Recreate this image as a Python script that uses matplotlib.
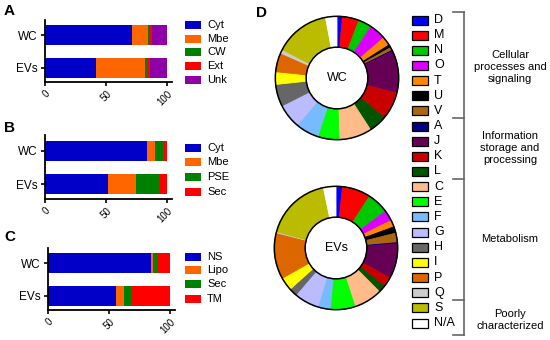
import matplotlib
matplotlib.use("Agg")
import matplotlib.pyplot as plt
from matplotlib.patches import Rectangle, Circle
import numpy as np

plt.rcParams['font.family'] = ['Liberation Sans', 'DejaVu Sans']

# ---------------- data ----------------
samples = ["WC", "EVs"]

a_labels = ["Cyt", "Mbe", "CW", "Ext", "Unk"]
a_wc = [71, 13.6, 1.4, 1.6, 12.4]
a_ev = [42, 40, 2.3, 1.4, 14.3]

b_labels = ["Cyt", "Mbe", "PSE", "Sec"]
b_wc = [83.6, 6.3, 6.8, 3.3]
b_ev = [51.5, 23.3, 19.4, 5.8]

c_labels = ["NS", "Lipo", "Sec", "TM"]
c_wc = [84.1, 2.2, 3.3, 10.4]
c_ev = [55.3, 7.2, 5.5, 32.0]

cog_labels = ["D", "M", "N", "O", "T", "U", "V", "A", "J", "K", "L",
              "C", "E", "F", "G", "H", "I", "P", "Q", "S", "N/A"]
cog_wc = [1.4, 4.4, 3.5, 4.4, 2.3, 0.8, 0.8, 0.3, 11.0, 7.3, 4.7,
          8.6, 5.6, 6.1, 6.4, 5.8, 3.3, 5.0, 1.0, 14.4, 3.0]
cog_ev = [1.7, 7.5, 5.7, 2.8, 1.8, 1.7, 2.5, 0.3, 9.2, 2.6, 1.9,
          7.5, 6.5, 3.3, 6.5, 2.1, 3.5, 12.2, 0.3, 17.5, 3.3]
groups = ["Cellular\nprocesses and\nsignaling", "Information\nstorage and\nprocessing",
          "Metabolism", "Poorly\ncharacterized"]
group_sizes = [7, 4, 8, 2]

x_ticks = [0, 50, 100]

# ---------------- styles ----------------
bar_cols_a = ["#0000C8", "#FF6600", "#008000", "#FF0000", "#8E00A8"]
bar_cols_b = ["#0000C8", "#FF6600", "#008000", "#FF0000"]
bar_cols_c = ["#0000C8", "#FF6600", "#008000", "#FF0000"]
cog_cols = ["#0000FF", "#FF0000", "#00C800", "#DD00FF", "#FF8800", "#000000",
            "#AA6611", "#000080", "#660055", "#C80000", "#005500",
            "#FFBB88", "#00FF00", "#77BBFF", "#BBBBFF", "#666666", "#FFFF00",
            "#DD6600", "#CCCCCC", "#BBBB00", "#FFFFFF"]

W, H = 550, 340
fig = plt.figure(figsize=(W / 100, H / 100), dpi=100)


def ax_px(left, top, width, height):
    return fig.add_axes([left / W, 1 - (top + height) / H, width / W, height / H])


def stacked(ax, wc, ev, cols):
    data = np.array([wc, ev])
    left = np.zeros(2)
    for i in range(data.shape[1]):
        ax.barh([0, 1], data[:, i], left=left, height=0.62, color=cols[i],
                edgecolor="none")
        left += data[:, i]
    ax.set_xlim(0, 104)
    ax.set_ylim(1.45, -0.48)
    ax.set_yticks([0, 1])
    ax.set_yticklabels(samples, fontsize=8.5)
    ax.set_xticks(x_ticks)
    ax.set_xticklabels([str(t) for t in x_ticks], rotation=45, fontsize=7,
                       ha="right", va="top", rotation_mode="anchor")
    for s in ["top", "right"]:
        ax.spines[s].set_visible(False)
    for s in ["left", "bottom"]:
        ax.spines[s].set_linewidth(1.3)
    ax.tick_params(width=1.2, length=3, pad=2)


axA = ax_px(45, 20, 127, 62)
stacked(axA, a_wc, a_ev, bar_cols_a)
axB = ax_px(45, 135, 127, 64)
stacked(axB, b_wc, b_ev, bar_cols_b)
axC = ax_px(48, 248, 127, 62)
stacked(axC, c_wc, c_ev, bar_cols_c)

# overlay for legends / labels
ov = fig.add_axes([0, 0, 1, 1])
ov.set_xlim(0, W)
ov.set_ylim(H, 0)
ov.axis("off")
ov.patch.set_alpha(0)

for lab, (x, y) in zip("ABCD", [(4, 11), (4, 128), (4, 237), (256, 13)]):
    ov.text(x, y, lab, fontsize=11, fontweight="bold", va="center", ha="left")


def bar_legend(labels, cols, ys):
    for lab, c, y in zip(labels, cols, ys):
        ov.add_patch(Rectangle((185, y - 4), 16, 8, facecolor=c, edgecolor="none"))
        ov.text(207, y, lab, fontsize=8, va="center", ha="left")


bar_legend(a_labels, bar_cols_a, [25, 38.5, 52, 66, 80])
bar_legend(b_labels, bar_cols_b, [148, 162, 177, 192])
bar_legend(c_labels, bar_cols_c, [257, 270, 284, 299])

# donuts
for vals, name, cx, cy in [(cog_wc, "WC", 337, 78), (cog_ev, "EVs", 336, 248)]:
    ax = ax_px(cx - 66, cy - 66, 132, 132)
    wedges, _ = ax.pie(vals, colors=cog_cols, startangle=90, counterclock=False,
                       radius=1, wedgeprops=dict(width=0.5, linewidth=0.6))
    for w in wedges:
        w.set_edgecolor(w.get_facecolor())
    ax.add_patch(Circle((0, 0), 1, fill=False, edgecolor="black", lw=1.1))
    ax.add_patch(Circle((0, 0), 0.5, fill=False, edgecolor="black", lw=1.1))
    ax.set_xlim(-1.07, 1.07)
    ax.set_ylim(-1.07, 1.07)
    ax.set_aspect("equal")
    ax.axis("off")
    ax.text(0, 0, name, fontsize=9, ha="center", va="center")

# COG legend
y0, dy = 20, 15.15
for i, (lab, c) in enumerate(zip(cog_labels, cog_cols)):
    y = y0 + i * dy
    ov.add_patch(Rectangle((412, y - 4.5), 16, 9, facecolor=c, edgecolor="black", lw=0.9))
    ov.text(434, y, lab, fontsize=9, va="center", ha="left")

# brackets
bx = 464
bounds = [12]
start = 0
for g in group_sizes:
    start += g
    bounds.append(y0 + (start - 0.5) * dy if start < len(cog_labels) else 335)
ov.plot([bx, bx], [bounds[0], bounds[-1]], color="#666666", lw=1.2)
for b in bounds:
    ov.plot([453, bx], [b, b], color="#666666", lw=1.2)
gy = [67, 148, 239, 320]
for g, y in zip(groups, gy):
    ov.text(510, y, g, fontsize=8, ha="center", va="center", linespacing=1.2)

fig.savefig("out.png", dpi=100)
